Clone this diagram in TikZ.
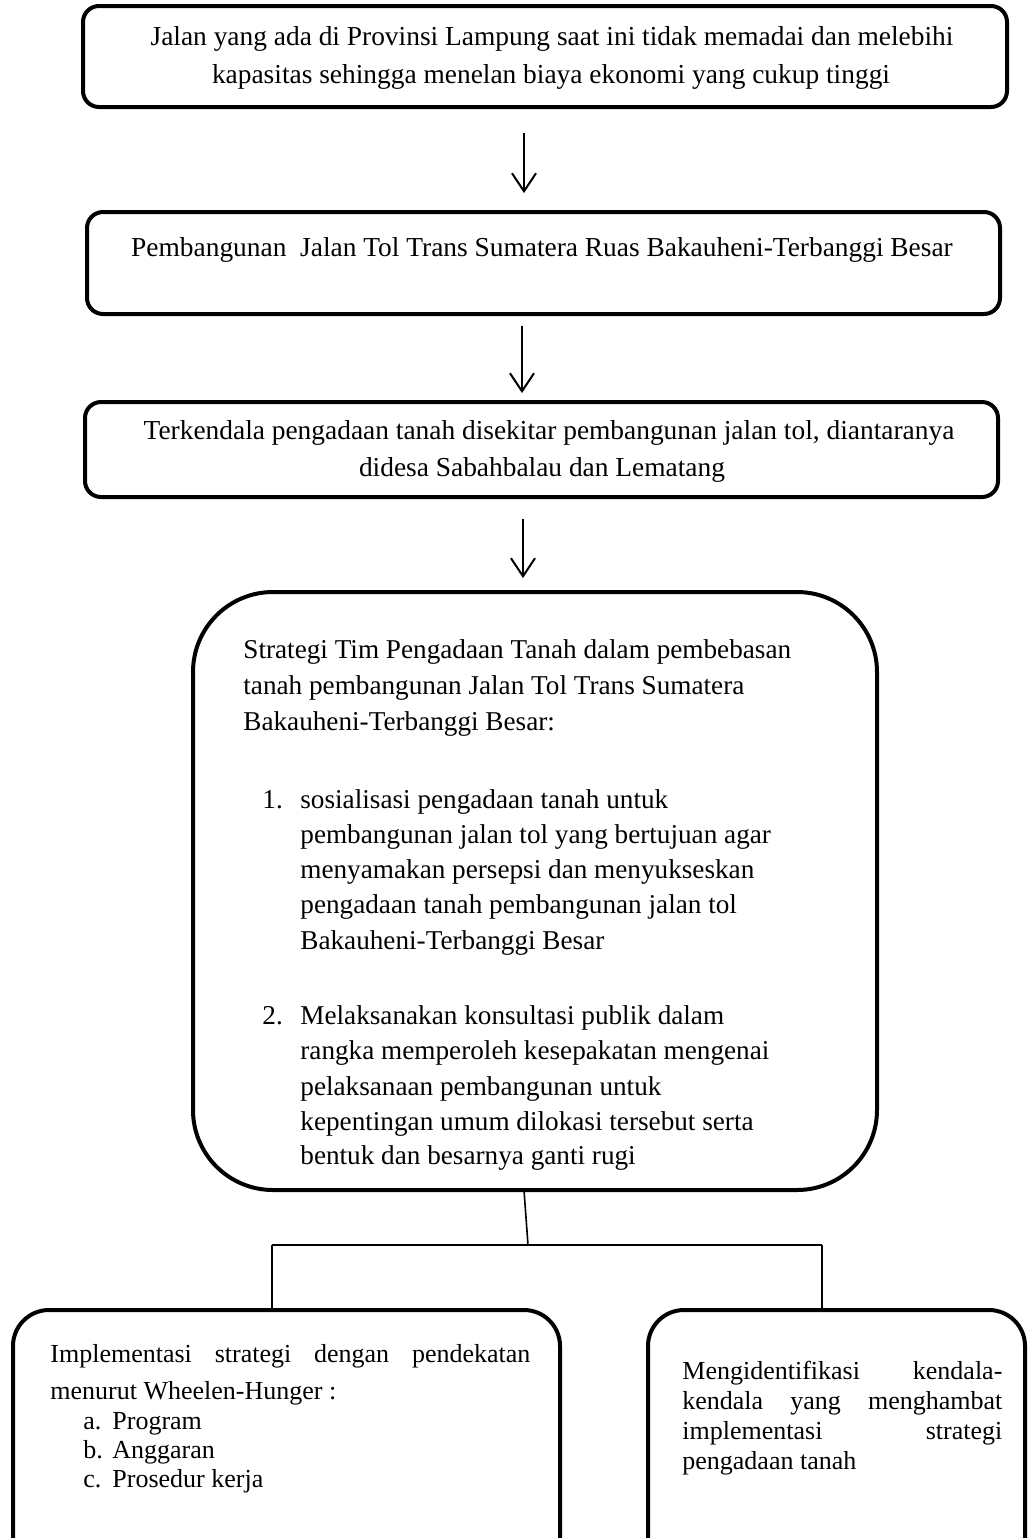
\documentclass[tikz,border=0pt]{standalone}
\usepackage{fontspec}
\setmainfont{Liberation Serif}
\usetikzlibrary{arrows.meta,fit,calc}
\begin{document}
\begin{tikzpicture}[x=0.5pt,y=-0.5pt,
  box/.style={draw=black,line width=2pt,inner sep=0pt,rounded corners=8pt},
  bigbox/.style={box,rounded corners=40pt},
  midbox/.style={box,rounded corners=18pt},
  txt/.style={inner sep=0pt,font=\fontsize{13}{16}\selectfont},
  txttop/.style={inner sep=0pt,font=\fontsize{13.7}{16}\selectfont},
  txtmid/.style={inner sep=0pt,font=\fontsize{13.6}{16}\selectfont},
  arr/.style={line width=1pt,-{Straight Barb[length=9pt,width=12pt,line width=1pt]}},
  conn/.style={line width=0.8pt}]
\useasboundingbox (0,0) rectangle (1028,1538);
\clip (0,0) rectangle (1028,1538);
% boxes
\node[box,fit={(83,6) (1007,107)}] (b1) {};
\node[box,fit={(87,212) (1000,314)}] (b2) {};
\node[box,fit={(85,402) (998,497)}] (b3) {};
\node[bigbox,fit={(193,592) (877,1190)}] (b4) {};
\node[midbox,fit={(13,1310) (560,1575)}] (b5) {};
\node[midbox,fit={(648,1310) (1025,1575)}] (b6) {};
% arrow column
\coordinate (ax1) at (524,0);
\coordinate (ax2) at (522,0);
\coordinate (ax3) at (523,0);
\draw[arr,shorten <=12pt,shorten >=8.5pt] (b1.south -| ax1) -- (b2.north -| ax1);
\draw[arr,shorten <=5pt,shorten >=3.5pt] (b2.south -| ax2) -- (b3.north -| ax2);
\draw[arr,shorten <=10pt,shorten >=6pt] (b3.south -| ax3) -- (b4.north -| ax3);
% branching connector
\coordinate (jtop) at (524,1190);
\coordinate (jmid) at (528,1245);
\coordinate (jl) at (272,1245);
\coordinate (jr) at (822,1245);
\draw[conn] (jtop) -- (jmid);
\draw[conn] (jl) -- (jr);
\draw[conn] (jl) -- (b5.north -| jl);
\draw[conn] (jr) -- (b6.north -| jr);
% texts box 1-3
\node[txttop,anchor=base] (t1a) at (552,45) {Jalan yang ada di Provinsi Lampung saat ini tidak memadai dan melebihi};
\node[txttop,anchor=base] (t1b) at (551,83) {kapasitas sehingga menelan biaya ekonomi yang cukup tinggi};
\node[txttop,anchor=base] (t2) at (542,256) {Pembangunan\ \ Jalan Tol Trans Sumatera Ruas Bakauheni-Terbanggi Besar};
\node[txttop,anchor=base] (t3a) at (549,439) {Terkendala pengadaan tanah disekitar pembangunan jalan tol, diantaranya};
\node[txttop,anchor=base] (t3b) at (542,476) {didesa Sabahbalau dan Lematang};
% box 4
\node[txtmid,anchor=base west] (t4a) at (243,658) {Strategi Tim Pengadaan Tanah dalam pembebasan};
\node[txtmid,anchor=base west] (t4b) at (243,694) {tanah pembangunan Jalan Tol Trans Sumatera};
\node[txtmid,anchor=base west] (t4c) at (243,730) {Bakauheni-Terbanggi Besar:};
\node[txtmid,anchor=base west] (n1) at (262,808) {1.};
\node[txtmid,anchor=base west] (i1a) at (300,808) {sosialisasi pengadaan tanah untuk};
\node[txtmid,anchor=base west] (i1b) at (300,843) {pembangunan jalan tol yang bertujuan agar};
\node[txtmid,anchor=base west] (i1c) at (300,878) {menyamakan persepsi dan menyukseskan};
\node[txtmid,anchor=base west] (i1d) at (300,913) {pengadaan tanah pembangunan jalan tol};
\node[txtmid,anchor=base west] (i1e) at (300,949) {Bakauheni-Terbanggi Besar};
\node[txtmid,anchor=base west] (n2) at (262,1024) {2.};
\node[txtmid,anchor=base west] (i2a) at (300,1024) {Melaksanakan konsultasi publik dalam};
\node[txtmid,anchor=base west] (i2b) at (300,1059) {rangka memperoleh kesepakatan mengenai};
\node[txtmid,anchor=base west] (i2c) at (300,1095) {pelaksanaan pembangunan untuk};
\node[txtmid,anchor=base west] (i2d) at (300,1130) {kepentingan umum dilokasi tersebut serta};
\node[txtmid,anchor=base west] (i2e) at (300,1164) {bentuk dan besarnya ganti rugi};
% box 5
\node[txt,anchor=base west] (t5a) at (50,1362) {\makebox[240pt][s]{Implementasi strategi dengan pendekatan}};
\node[txt,anchor=base west] (t5b) at (50,1399) {menurut Wheelen-Hunger :};
\node[txt,anchor=base west] (na) at (83,1429) {a.};
\node[txt,anchor=base west] (ta) at (112,1429) {Program};
\node[txt,anchor=base west] (nb) at (83,1458) {b.};
\node[txt,anchor=base west] (tb) at (112,1458) {Anggaran};
\node[txt,anchor=base west] (nc) at (83,1487) {c.};
\node[txt,anchor=base west] (tc) at (112,1487) {Prosedur kerja};
% box 6
\node[txt,anchor=base west] (t6a) at (682,1379) {\makebox[160pt][s]{Mengidentifikasi kendala-}};
\node[txt,anchor=base west] (t6b) at (682,1409) {\makebox[160pt][s]{kendala yang menghambat}};
\node[txt,anchor=base west] (t6c) at (682,1439) {\makebox[160pt][s]{implementasi strategi}};
\node[txt,anchor=base west] (t6d) at (682,1469) {pengadaan tanah};
\end{tikzpicture}
\end{document}
